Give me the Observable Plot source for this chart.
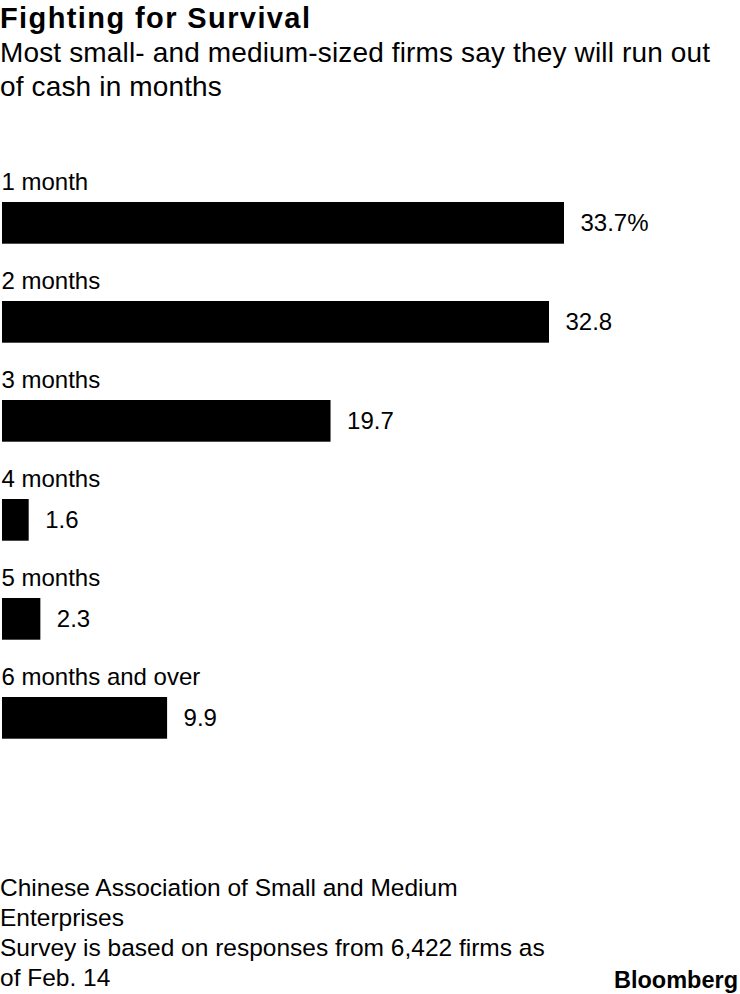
<!DOCTYPE html>
<html>
<head>
<meta charset="utf-8">
<script src="https://cdn.jsdelivr.net/npm/d3@7"></script>
<script src="https://cdn.jsdelivr.net/npm/@observablehq/plot@0.6"></script>
<style>
  html, body { margin: 0; padding: 0; background: #fff; }
  body { width: 740px; height: 994px; position: relative; overflow: hidden; font-family: "Liberation Sans", Arial, sans-serif; color: #000; }
  .abs { position: absolute; left: 0; white-space: nowrap; }
  #title { top: 1px; font-size: 29px; line-height: 34px; font-weight: bold; letter-spacing: 1.4px; }
  #subtitle { top: 36px; font-size: 28px; line-height: 34px; letter-spacing: 0.15px; }
  #chart { top: 150px; }
  #footer { top: 873px; font-size: 24.5px; line-height: 30px; }
  #logo { top: 965px; left: auto; right: 2px; font-size: 23.5px; line-height: 30px; font-weight: bold; letter-spacing: 0; }
</style>
</head>
<body>
<div id="title" class="abs">Fighting for Survival</div>
<div id="subtitle" class="abs">Most small- and medium-sized firms say they will run out<br>of cash in months</div>
<div id="chart" class="abs"></div>
<div id="footer" class="abs">Chinese Association of Small and Medium<br>Enterprises<br>Survey is based on responses from 6,422 firms as<br>of Feb. 14</div>
<div id="logo" class="abs">Bloomberg</div>
<script>
const categories = ["1 month", "2 months", "3 months", "4 months", "5 months", "6 months and over"];
const values = [33.7, 32.8, 19.7, 1.6, 2.3, 9.9];
const valueLabels = ["33.7%", "32.8", "19.7", "1.6", "2.3", "9.9"];

const data = categories.map((c, i) => ({cat: c, value: values[i], label: valueLabels[i]}));

const chart = Plot.plot({
  width: 740,
  height: 610,
  marginTop: 1,
  marginBottom: 13.8,
  marginLeft: 2,
  marginRight: 176,
  style: {fontFamily: "'Liberation Sans', Arial, sans-serif", fontSize: "24px", background: "white", color: "black"},
  x: {domain: [0, 33.7], range: [2, 564], axis: null},
  y: {domain: categories, padding: 0, axis: null},
  marks: [
    Plot.barX(data, {x: "value", y: "cat", fill: "black", insetTop: 50, insetBottom: 7.3}),
    Plot.text(data, {x: 0, y: "cat", text: "cat", textAnchor: "start", dx: -1, dy: -20, fontSize: 24, fill: "black"}),
    Plot.text(data, {x: "value", y: "cat", text: "label", textAnchor: "start", dx: 16, dy: 21.35, fontSize: 24, fill: "black"})
  ]
});
document.getElementById("chart").appendChild(chart);
</script>
</body>
</html>
